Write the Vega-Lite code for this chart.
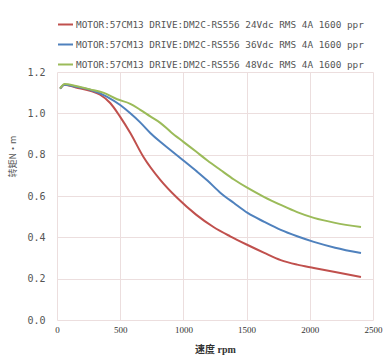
{
  "$schema": "https://vega.github.io/schema/vega-lite/v6.json",
  "width": 316,
  "height": 248,
  "autosize": {"type": "none"},
  "padding": {"left": 57, "top": 72, "right": 15, "bottom": 37},
  "background": "white",
  "config": {
    "view": {"stroke": null},
    "axis": {"grid": true, "gridColor": "#ecdede", "gridWidth": 1, "domain": false, "ticks": false}
  },
  "data": {
    "values": [
      {"speed": 25, "torque": 1.12, "series": "MOTOR:57CM13 DRIVE:DM2C-RS556 24Vdc RMS 4A 1600 ppr"},
      {"speed": 60, "torque": 1.138, "series": "MOTOR:57CM13 DRIVE:DM2C-RS556 24Vdc RMS 4A 1600 ppr"},
      {"speed": 150, "torque": 1.125, "series": "MOTOR:57CM13 DRIVE:DM2C-RS556 24Vdc RMS 4A 1600 ppr"},
      {"speed": 262, "torque": 1.109, "series": "MOTOR:57CM13 DRIVE:DM2C-RS556 24Vdc RMS 4A 1600 ppr"},
      {"speed": 341, "torque": 1.09, "series": "MOTOR:57CM13 DRIVE:DM2C-RS556 24Vdc RMS 4A 1600 ppr"},
      {"speed": 421, "torque": 1.05, "series": "MOTOR:57CM13 DRIVE:DM2C-RS556 24Vdc RMS 4A 1600 ppr"},
      {"speed": 500, "torque": 0.983, "series": "MOTOR:57CM13 DRIVE:DM2C-RS556 24Vdc RMS 4A 1600 ppr"},
      {"speed": 580, "torque": 0.905, "series": "MOTOR:57CM13 DRIVE:DM2C-RS556 24Vdc RMS 4A 1600 ppr"},
      {"speed": 683, "torque": 0.79, "series": "MOTOR:57CM13 DRIVE:DM2C-RS556 24Vdc RMS 4A 1600 ppr"},
      {"speed": 817, "torque": 0.678, "series": "MOTOR:57CM13 DRIVE:DM2C-RS556 24Vdc RMS 4A 1600 ppr"},
      {"speed": 952, "torque": 0.59, "series": "MOTOR:57CM13 DRIVE:DM2C-RS556 24Vdc RMS 4A 1600 ppr"},
      {"speed": 1100, "torque": 0.51, "series": "MOTOR:57CM13 DRIVE:DM2C-RS556 24Vdc RMS 4A 1600 ppr"},
      {"speed": 1238, "torque": 0.45, "series": "MOTOR:57CM13 DRIVE:DM2C-RS556 24Vdc RMS 4A 1600 ppr"},
      {"speed": 1370, "torque": 0.405, "series": "MOTOR:57CM13 DRIVE:DM2C-RS556 24Vdc RMS 4A 1600 ppr"},
      {"speed": 1508, "torque": 0.363, "series": "MOTOR:57CM13 DRIVE:DM2C-RS556 24Vdc RMS 4A 1600 ppr"},
      {"speed": 1640, "torque": 0.325, "series": "MOTOR:57CM13 DRIVE:DM2C-RS556 24Vdc RMS 4A 1600 ppr"},
      {"speed": 1770, "torque": 0.29, "series": "MOTOR:57CM13 DRIVE:DM2C-RS556 24Vdc RMS 4A 1600 ppr"},
      {"speed": 1900, "torque": 0.268, "series": "MOTOR:57CM13 DRIVE:DM2C-RS556 24Vdc RMS 4A 1600 ppr"},
      {"speed": 2032, "torque": 0.252, "series": "MOTOR:57CM13 DRIVE:DM2C-RS556 24Vdc RMS 4A 1600 ppr"},
      {"speed": 2200, "torque": 0.232, "series": "MOTOR:57CM13 DRIVE:DM2C-RS556 24Vdc RMS 4A 1600 ppr"},
      {"speed": 2405, "torque": 0.208, "series": "MOTOR:57CM13 DRIVE:DM2C-RS556 24Vdc RMS 4A 1600 ppr"},
      {"speed": 25, "torque": 1.12, "series": "MOTOR:57CM13 DRIVE:DM2C-RS556 36Vdc RMS 4A 1600 ppr"},
      {"speed": 60, "torque": 1.138, "series": "MOTOR:57CM13 DRIVE:DM2C-RS556 36Vdc RMS 4A 1600 ppr"},
      {"speed": 150, "torque": 1.128, "series": "MOTOR:57CM13 DRIVE:DM2C-RS556 36Vdc RMS 4A 1600 ppr"},
      {"speed": 262, "torque": 1.114, "series": "MOTOR:57CM13 DRIVE:DM2C-RS556 36Vdc RMS 4A 1600 ppr"},
      {"speed": 397, "torque": 1.08, "series": "MOTOR:57CM13 DRIVE:DM2C-RS556 36Vdc RMS 4A 1600 ppr"},
      {"speed": 500, "torque": 1.04, "series": "MOTOR:57CM13 DRIVE:DM2C-RS556 36Vdc RMS 4A 1600 ppr"},
      {"speed": 580, "torque": 1.0, "series": "MOTOR:57CM13 DRIVE:DM2C-RS556 36Vdc RMS 4A 1600 ppr"},
      {"speed": 660, "torque": 0.955, "series": "MOTOR:57CM13 DRIVE:DM2C-RS556 36Vdc RMS 4A 1600 ppr"},
      {"speed": 738, "torque": 0.905, "series": "MOTOR:57CM13 DRIVE:DM2C-RS556 36Vdc RMS 4A 1600 ppr"},
      {"speed": 817, "torque": 0.862, "series": "MOTOR:57CM13 DRIVE:DM2C-RS556 36Vdc RMS 4A 1600 ppr"},
      {"speed": 897, "torque": 0.823, "series": "MOTOR:57CM13 DRIVE:DM2C-RS556 36Vdc RMS 4A 1600 ppr"},
      {"speed": 1000, "torque": 0.772, "series": "MOTOR:57CM13 DRIVE:DM2C-RS556 36Vdc RMS 4A 1600 ppr"},
      {"speed": 1100, "torque": 0.722, "series": "MOTOR:57CM13 DRIVE:DM2C-RS556 36Vdc RMS 4A 1600 ppr"},
      {"speed": 1190, "torque": 0.675, "series": "MOTOR:57CM13 DRIVE:DM2C-RS556 36Vdc RMS 4A 1600 ppr"},
      {"speed": 1294, "torque": 0.615, "series": "MOTOR:57CM13 DRIVE:DM2C-RS556 36Vdc RMS 4A 1600 ppr"},
      {"speed": 1400, "torque": 0.566, "series": "MOTOR:57CM13 DRIVE:DM2C-RS556 36Vdc RMS 4A 1600 ppr"},
      {"speed": 1508, "torque": 0.518, "series": "MOTOR:57CM13 DRIVE:DM2C-RS556 36Vdc RMS 4A 1600 ppr"},
      {"speed": 1640, "torque": 0.475, "series": "MOTOR:57CM13 DRIVE:DM2C-RS556 36Vdc RMS 4A 1600 ppr"},
      {"speed": 1770, "torque": 0.436, "series": "MOTOR:57CM13 DRIVE:DM2C-RS556 36Vdc RMS 4A 1600 ppr"},
      {"speed": 1900, "torque": 0.405, "series": "MOTOR:57CM13 DRIVE:DM2C-RS556 36Vdc RMS 4A 1600 ppr"},
      {"speed": 2032, "torque": 0.378, "series": "MOTOR:57CM13 DRIVE:DM2C-RS556 36Vdc RMS 4A 1600 ppr"},
      {"speed": 2200, "torque": 0.35, "series": "MOTOR:57CM13 DRIVE:DM2C-RS556 36Vdc RMS 4A 1600 ppr"},
      {"speed": 2405, "torque": 0.324, "series": "MOTOR:57CM13 DRIVE:DM2C-RS556 36Vdc RMS 4A 1600 ppr"},
      {"speed": 25, "torque": 1.12, "series": "MOTOR:57CM13 DRIVE:DM2C-RS556 48Vdc RMS 4A 1600 ppr"},
      {"speed": 60, "torque": 1.142, "series": "MOTOR:57CM13 DRIVE:DM2C-RS556 48Vdc RMS 4A 1600 ppr"},
      {"speed": 150, "torque": 1.132, "series": "MOTOR:57CM13 DRIVE:DM2C-RS556 48Vdc RMS 4A 1600 ppr"},
      {"speed": 262, "torque": 1.116, "series": "MOTOR:57CM13 DRIVE:DM2C-RS556 48Vdc RMS 4A 1600 ppr"},
      {"speed": 365, "torque": 1.1, "series": "MOTOR:57CM13 DRIVE:DM2C-RS556 48Vdc RMS 4A 1600 ppr"},
      {"speed": 476, "torque": 1.068, "series": "MOTOR:57CM13 DRIVE:DM2C-RS556 48Vdc RMS 4A 1600 ppr"},
      {"speed": 580, "torque": 1.046, "series": "MOTOR:57CM13 DRIVE:DM2C-RS556 48Vdc RMS 4A 1600 ppr"},
      {"speed": 659, "torque": 1.017, "series": "MOTOR:57CM13 DRIVE:DM2C-RS556 48Vdc RMS 4A 1600 ppr"},
      {"speed": 738, "torque": 0.985, "series": "MOTOR:57CM13 DRIVE:DM2C-RS556 48Vdc RMS 4A 1600 ppr"},
      {"speed": 817, "torque": 0.954, "series": "MOTOR:57CM13 DRIVE:DM2C-RS556 48Vdc RMS 4A 1600 ppr"},
      {"speed": 900, "torque": 0.91, "series": "MOTOR:57CM13 DRIVE:DM2C-RS556 48Vdc RMS 4A 1600 ppr"},
      {"speed": 1000, "torque": 0.862, "series": "MOTOR:57CM13 DRIVE:DM2C-RS556 48Vdc RMS 4A 1600 ppr"},
      {"speed": 1100, "torque": 0.815, "series": "MOTOR:57CM13 DRIVE:DM2C-RS556 48Vdc RMS 4A 1600 ppr"},
      {"speed": 1190, "torque": 0.772, "series": "MOTOR:57CM13 DRIVE:DM2C-RS556 48Vdc RMS 4A 1600 ppr"},
      {"speed": 1294, "torque": 0.726, "series": "MOTOR:57CM13 DRIVE:DM2C-RS556 48Vdc RMS 4A 1600 ppr"},
      {"speed": 1400, "torque": 0.68, "series": "MOTOR:57CM13 DRIVE:DM2C-RS556 48Vdc RMS 4A 1600 ppr"},
      {"speed": 1508, "torque": 0.639, "series": "MOTOR:57CM13 DRIVE:DM2C-RS556 48Vdc RMS 4A 1600 ppr"},
      {"speed": 1640, "torque": 0.595, "series": "MOTOR:57CM13 DRIVE:DM2C-RS556 48Vdc RMS 4A 1600 ppr"},
      {"speed": 1770, "torque": 0.557, "series": "MOTOR:57CM13 DRIVE:DM2C-RS556 48Vdc RMS 4A 1600 ppr"},
      {"speed": 1900, "torque": 0.522, "series": "MOTOR:57CM13 DRIVE:DM2C-RS556 48Vdc RMS 4A 1600 ppr"},
      {"speed": 2032, "torque": 0.494, "series": "MOTOR:57CM13 DRIVE:DM2C-RS556 48Vdc RMS 4A 1600 ppr"},
      {"speed": 2200, "torque": 0.47, "series": "MOTOR:57CM13 DRIVE:DM2C-RS556 48Vdc RMS 4A 1600 ppr"},
      {"speed": 2405, "torque": 0.45, "series": "MOTOR:57CM13 DRIVE:DM2C-RS556 48Vdc RMS 4A 1600 ppr"}
    ]
  },
  "mark": {"type": "line", "interpolate": "monotone", "strokeWidth": 2},
  "encoding": {
    "x": {
      "field": "speed", "type": "quantitative",
      "scale": {"domain": [0, 2500], "nice": false},
      "axis": {
        "values": [0, 500, 1000, 1500, 2000, 2500],
        "format": "d",
        "title": "速度 rpm",
        "labelFont": "Liberation Serif",
        "labelFontSize": 9,
        "labelColor": "#333333",
        "labelPadding": 5,
        "labelFlush": false,
        "titleFont": "Liberation Serif, Noto Sans CJK SC",
        "titleFontSize": 10,
        "titleFontWeight": "bold",
        "titleColor": "#333333",
        "titlePadding": 10
      }
    },
    "y": {
      "field": "torque", "type": "quantitative",
      "scale": {"domain": [0, 1.2], "nice": false},
      "axis": {
        "values": [0, 0.2, 0.4, 0.6, 0.8, 1.0, 1.2],
        "format": ".1f",
        "title": "转矩N·m",
        "labelFont": "DejaVu Sans Mono",
        "labelFontSize": 10,
        "labelColor": "#555555",
        "labelPadding": 12,
        "titleFont": "Noto Sans CJK SC",
        "titleFontSize": 9,
        "titleFontWeight": "normal",
        "titleColor": "#555555",
        "titleAlign": "center",
        "titleBaseline": "middle",
        "titleAngle": -90,
        "titleX": -45,
        "titleY": 84
      }
    },
    "color": {
      "field": "series", "type": "nominal",
      "scale": {"range": ["#c0504d", "#4f81bd", "#9bbb59"]},
      "legend": {
        "title": null,
        "orient": "none",
        "legendX": 0,
        "legendY": -56,
        "direction": "vertical",
        "symbolType": "stroke",
        "symbolSize": 225,
        "symbolStrokeWidth": 2,
        "labelFont": "DejaVu Sans Mono",
        "labelFontSize": 9.4,
        "labelColor": "#555555",
        "labelOffset": 2,
        "labelLimit": 400,
        "rowPadding": 7,
        "padding": 0
      }
    }
  }
}
